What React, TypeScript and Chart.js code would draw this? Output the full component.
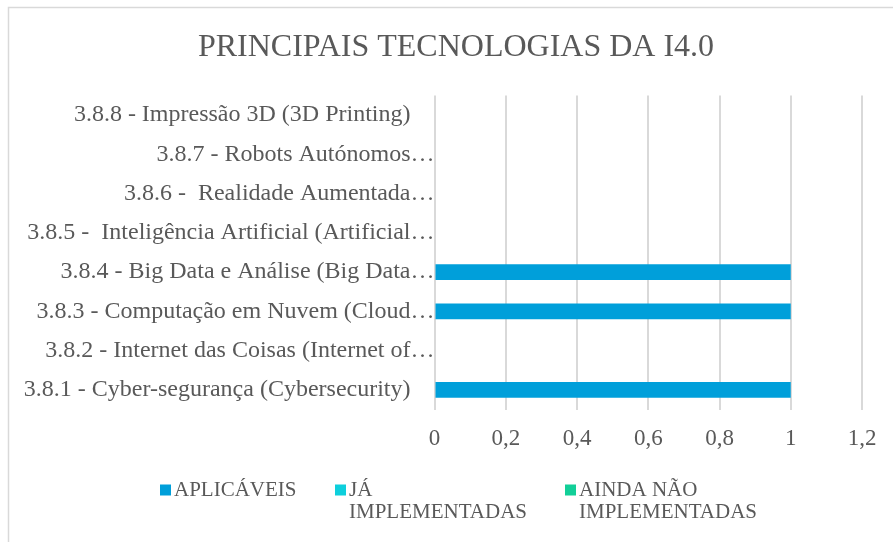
import React, { useEffect, useRef } from "react";
import { Chart, registerables } from "chart.js";

Chart.register(...registerables);

const titleText = "PRINCIPAIS TECNOLOGIAS DA I4.0";

const categories = [
  "3.8.8 - Impressão 3D (3D Printing)\u2002\u2002",
  "3.8.7 - Robots Autónomos…",
  "3.8.6 -  Realidade Aumentada…",
  "3.8.5 -  Inteligência Artificial (Artificial…",
  "3.8.4 - Big Data e Análise (Big Data…",
  "3.8.3 - Computação em Nuvem (Cloud…",
  "3.8.2 - Internet das Coisas (Internet of…",
  "3.8.1 - Cyber-segurança (Cybersecurity)\u2002\u2002",
];

const seriesNames = ["APLICÁVEIS", "JÁ IMPLEMENTADAS", "AINDA NÃO IMPLEMENTADAS"];
const aplicaveis = [0, 0, 0, 0, 1, 1, 0, 1];
const jaImplementadas = [null, null, null, null, null, null, null, null];
const aindaNaoImplementadas = [null, null, null, null, null, null, null, null];

const xTicks = [0, 0.2, 0.4, 0.6, 0.8, 1, 1.2];

const seriesColors = ["#009FDA", "#0DCFDC", "#12CF98"];
const textColor = "#595959";
const FONT = "'Liberation Serif', 'Times New Roman', serif";

const decorPlugin = {
  id: "decor",
  beforeDraw(chart: any) {
    const ctx = chart.ctx;
    ctx.save();
    ctx.fillStyle = "#ffffff";
    ctx.fillRect(0, 0, chart.width, chart.height);
    ctx.strokeStyle = "#d9d9d9";
    ctx.lineWidth = 1.5;
    ctx.strokeRect(8.5, 7.5, 2000, 2000);
    ctx.restore();
  },
  afterDraw(chart: any) {
    const ctx = chart.ctx;
    ctx.save();
    ctx.fillStyle = textColor;
    ctx.font = `32px ${FONT}`;
    ctx.textAlign = "center";
    ctx.textBaseline = "middle";
    ctx.fillText(titleText, 456, 48);

    const lx = [160, 335, 565];
    ctx.font = `21px ${FONT}`;
    ctx.textAlign = "left";
    chart.data.datasets.forEach((ds: any, i: number) => {
      const words = String(ds.label).split(" ");
      const lines: string[] = [];
      let cur = "";
      words.forEach((w) => {
        const t = cur ? cur + " " + w : w;
        if (cur && ctx.measureText(t).width > 185) {
          lines.push(cur);
          cur = w;
        } else cur = t;
      });
      if (cur) lines.push(cur);
      ctx.fillStyle = ds.backgroundColor;
      ctx.fillRect(lx[i], 484.5, 11, 11);
      ctx.fillStyle = textColor;
      lines.forEach((ln, j) => ctx.fillText(ln, lx[i] + 14, 490 + j * 22.5));
    });
    ctx.restore();
  },
};

export default function App() {
  const ref = useRef<HTMLCanvasElement | null>(null);
  useEffect(() => {
    if (!ref.current) return;
    const chart = new Chart(ref.current, {
      type: "bar",
      data: {
        labels: categories,
        datasets: [
          { label: seriesNames[0], data: aplicaveis, backgroundColor: seriesColors[0] },
          { label: seriesNames[1], data: jaImplementadas as any, backgroundColor: seriesColors[1] },
          { label: seriesNames[2], data: aindaNaoImplementadas as any, backgroundColor: seriesColors[2] },
        ],
      },
      options: {
        indexAxis: "y",
        responsive: false,
        animation: false,
        skipNull: true,
        categoryPercentage: 0.45,
        barPercentage: 0.9,
        layout: { padding: { top: 95.5, right: 31, bottom: 72.5, left: 0 } },
        plugins: { legend: { display: false }, title: { display: false }, tooltip: { enabled: false } },
        scales: {
          x: {
            min: 0,
            max: 1.2,
            afterBuildTicks: (scale: any) => {
              scale.ticks = xTicks.map((v) => ({ value: v }));
            },
            afterFit: (scale: any) => {
              scale.height = 60;
            },
            border: { display: false },
            grid: { color: "#d9d9d9", lineWidth: 2, drawTicks: false },
            ticks: {
              padding: 16,
              color: textColor,
              font: { family: FONT, size: 23 },
              callback: (v: any) => String(Math.round(Number(v) * 10) / 10).replace(".", ","),
            },
          },
          y: {
            afterFit: (scale: any) => {
              scale.width = 434.5;
            },
            border: { display: false },
            grid: { display: false, drawTicks: false },
            ticks: {
              padding: 0,
              color: textColor,
              font: { family: FONT, size: 24 },
              autoSkip: false,
            },
          },
        },
      } as any,
      plugins: [decorPlugin],
    });
    return () => chart.destroy();
  }, []);
  return (
    <canvas
      ref={ref}
      width={893}
      height={542}
      style={{ position: "absolute", left: 0, top: 0, width: 893, height: 542, display: "block" }}
    />
  );
}
